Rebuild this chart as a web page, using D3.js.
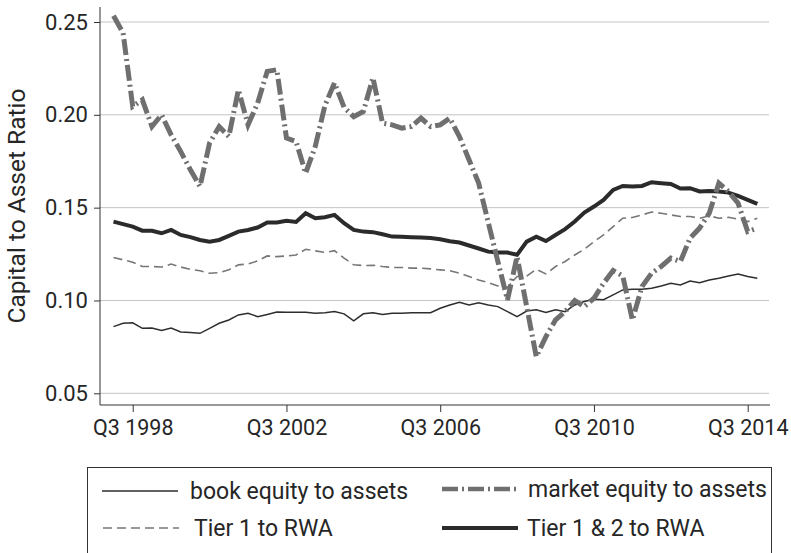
<!DOCTYPE html>
<html>
<head>
<meta charset="utf-8">
<script src="https://cdn.jsdelivr.net/npm/d3@7"></script>
<style>
body { margin: 0; background: #fff; }
svg { font-family: Roboto, "Liberation Sans", sans-serif; }
</style>
</head>
<body>
<div id="chart"></div>
<script>
// quarterly, Q1 1998 .. Q4 2014
var tickIdx = [2, 18, 34, 50, 66];
var tickLabels = ["Q3 1998", "Q3 2002", "Q3 2006", "Q3 2010", "Q3 2014"];
var yTicks = [0.05, 0.10, 0.15, 0.20, 0.25];

var book = [0.0859, 0.0877, 0.088, 0.085, 0.0852, 0.0838, 0.0852, 0.083, 0.0828, 0.0823,
    0.085, 0.0877, 0.0895, 0.0922, 0.0931, 0.0913, 0.0925, 0.0938, 0.0936, 0.0936,
    0.0936, 0.0931, 0.0934, 0.094, 0.0928, 0.089, 0.0928, 0.0934, 0.0925, 0.0931,
    0.0931, 0.0934, 0.0934, 0.0934, 0.0958, 0.0976, 0.099, 0.0976, 0.0988, 0.0976,
    0.0967, 0.094, 0.0913, 0.0943, 0.095, 0.0935, 0.095, 0.094, 0.0976, 0.0994,
    0.1007, 0.1004, 0.103, 0.1057, 0.106, 0.106, 0.1066, 0.1078, 0.1093, 0.1084,
    0.1105, 0.1096, 0.111, 0.112, 0.1132, 0.1143, 0.1129, 0.112];

var market = [0.2534, 0.2441, 0.2045, 0.2081, 0.1937, 0.2, 0.1892, 0.1802, 0.1704, 0.1614,
    0.1848, 0.1937, 0.1883, 0.2135, 0.1946, 0.2063, 0.2234, 0.2243, 0.1875, 0.1856,
    0.1686, 0.183, 0.205, 0.2172, 0.204, 0.199, 0.2018, 0.22, 0.1955, 0.1946,
    0.1928, 0.1937, 0.1982, 0.1937, 0.1946, 0.1982, 0.1883, 0.1758, 0.1632, 0.142,
    0.121, 0.1003, 0.1236, 0.0967, 0.0697, 0.0805, 0.0895, 0.094, 0.1, 0.0967,
    0.1012, 0.1093, 0.1161, 0.1132, 0.0895, 0.1075, 0.1147, 0.1183, 0.1228, 0.121,
    0.1336, 0.139, 0.147, 0.1632, 0.1587, 0.1524, 0.1371, 0.139];

var tier1 = [0.1231, 0.1219, 0.1206, 0.1183, 0.1183, 0.118, 0.1196, 0.118, 0.1168, 0.116,
    0.1147, 0.115, 0.1165, 0.1192, 0.1196, 0.1213, 0.124, 0.1236, 0.124, 0.1245,
    0.1276, 0.1267, 0.1259, 0.1268, 0.1228, 0.1192, 0.1188, 0.119, 0.1183, 0.1178,
    0.1178, 0.1174, 0.1174, 0.117, 0.1165, 0.116, 0.1147, 0.1129, 0.111, 0.1096,
    0.1078, 0.1071, 0.1129, 0.1131, 0.1168, 0.1143, 0.1183, 0.121, 0.1245, 0.1276,
    0.1317, 0.1353, 0.1398, 0.1443, 0.1447, 0.1461, 0.1476, 0.147, 0.1461, 0.1452,
    0.1452, 0.1443, 0.1456, 0.1443, 0.1448, 0.1438, 0.1425, 0.1443];

var tier12 = [0.1425, 0.1411, 0.1398, 0.1376, 0.1375, 0.1362, 0.138, 0.1353, 0.1341, 0.1326,
    0.1317, 0.1326, 0.1348, 0.1371, 0.138, 0.1393, 0.142, 0.142, 0.1429, 0.1423,
    0.147, 0.1443, 0.1448, 0.1461, 0.1416, 0.138, 0.1371, 0.1368, 0.1357, 0.1344,
    0.1343, 0.1341, 0.1339, 0.1336, 0.133, 0.1319, 0.1312, 0.1296, 0.128, 0.1263,
    0.1258, 0.1258, 0.1246, 0.1317, 0.1344, 0.132, 0.1353, 0.1384, 0.1425, 0.1474,
    0.1506, 0.1542, 0.1596, 0.1617, 0.1614, 0.1617, 0.1637, 0.1632, 0.1628, 0.1603,
    0.1605, 0.1587, 0.159, 0.1587, 0.1581, 0.1563, 0.1542, 0.152];

var W = 791, H = 553;
var pLeft = 100, pRight = 770, pTop = 7, pBottom = 405;
var textColor = "#262626";

var svg = d3.select("#chart").append("svg")
    .attr("width", W)
    .attr("height", H);

var x = d3.scaleLinear().domain([0, 67]).range([113.5, 757.3]);
var y = d3.scaleLinear().domain([0.05, 0.25]).range([393.3, 22]);

// gridlines
svg.append("g")
    .selectAll("line")
    .data(yTicks)
    .enter()
    .append("line")
    .attr("x1", pLeft)
    .attr("x2", pRight - 1)
    .attr("y1", function(d) { return y(d); })
    .attr("y2", function(d) { return y(d); })
    .attr("stroke", "#c4c4c4")
    .attr("stroke-width", 1);

// y axis
var yAxis = d3.axisLeft(y)
    .tickValues(yTicks)
    .tickSize(6)
    .tickPadding(6)
    .tickFormat(d3.format(".2f"));
var gy = svg.append("g")
    .attr("transform", "translate(" + pLeft + ",0)")
    .call(yAxis);
gy.select(".domain").remove();
gy.append("line")
    .attr("x1", 0).attr("x2", 0)
    .attr("y1", pTop).attr("y2", pBottom)
    .attr("stroke", "#333");
gy.selectAll(".tick line").attr("stroke", "#333");
gy.selectAll(".tick text")
    .attr("fill", textColor)
    .style("font-size", "22px")
    .style("font-family", "Roboto, sans-serif");

// x axis
var xAxis = d3.axisBottom(x)
    .tickValues(tickIdx)
    .tickSize(7)
    .tickPadding(8)
    .tickFormat(function(d, i) { return tickLabels[i]; });
var gx = svg.append("g")
    .attr("transform", "translate(0," + pBottom + ")")
    .call(xAxis);
gx.select(".domain").remove();
gx.append("line")
    .attr("x1", pLeft).attr("x2", pRight)
    .attr("y1", 0).attr("y2", 0)
    .attr("stroke", "#333");
gx.selectAll(".tick line").attr("stroke", "#333");
gx.selectAll(".tick text")
    .attr("fill", textColor)
    .style("font-size", "21.5px")
    .style("font-family", "Roboto, sans-serif");

// y title
svg.append("text")
    .attr("transform", "translate(25," + (pTop + pBottom) / 2 + ") rotate(-90)")
    .attr("text-anchor", "middle")
    .attr("fill", textColor)
    .style("font-size", "24.5px")
    .text("Capital to Asset Ratio");

var line = d3.line()
    .x(function(d, i) { return x(i); })
    .y(function(d) { return y(d); });

var series = [
    {name: "book equity to assets", values: book, color: "#2e2e2e", width: 1.5, dash: null},
    {name: "Tier 1 to RWA", values: tier1, color: "#777", width: 1.6, dash: "9,5"},
    {name: "Tier 1 & 2 to RWA", values: tier12, color: "#2b2b2b", width: 4, dash: null},
    {name: "market equity to assets", values: market, color: "#6f6f6f", width: 5, dash: "16,4,2,4"}
];

svg.append("g")
    .selectAll("path")
    .data(series)
    .enter()
    .append("path")
    .attr("d", function(d) { return line(d.values); })
    .attr("fill", "none")
    .attr("stroke", function(d) { return d.color; })
    .attr("stroke-width", function(d) { return d.width; })
    .attr("stroke-dasharray", function(d) { return d.dash; })
    .attr("stroke-linejoin", "miter");

// legend
var lg = svg.append("g");
lg.append("rect")
    .attr("x", 87.5).attr("y", 467.5)
    .attr("width", 684).attr("height", 120)
    .attr("fill", "none")
    .attr("stroke", "#333");

var legendItems = [
    {s: series[0], x: 102, y: 491, tx: 190},
    {s: series[3], x: 442, y: 489, tx: 528},
    {s: series[1], x: 103, y: 528, tx: 194},
    {s: series[2], x: 442, y: 528, tx: 527}
];

var items = lg.selectAll("g.item")
    .data(legendItems)
    .enter()
    .append("g")
    .attr("class", "item");

items.append("line")
    .attr("x1", function(d) { return d.x; })
    .attr("x2", function(d) { return d.x + 76; })
    .attr("y1", function(d) { return d.y; })
    .attr("y2", function(d) { return d.y; })
    .attr("stroke", function(d) { return d.s.color; })
    .attr("stroke-width", function(d) { return Math.min(d.s.width, 4.3); })
    .attr("stroke-dasharray", function(d) { return d.s.dash; });

items.append("text")
    .attr("x", function(d) { return d.tx; })
    .attr("y", function(d) { return d.y + 8; })
    .attr("fill", textColor)
    .style("font-size", "23px")
    .text(function(d) { return d.s.name; });
</script>
</body>
</html>
